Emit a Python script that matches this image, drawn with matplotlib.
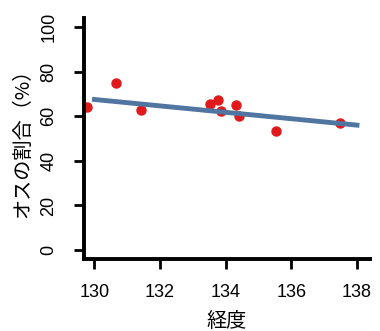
import matplotlib
matplotlib.use("Agg")
import matplotlib.pyplot as plt

# 経度とオスの割合
longitude = [129.76, 130.67, 131.41, 133.52, 133.77, 133.87, 134.30, 134.39, 135.52, 137.48]
male_pct = [64, 75, 63, 65.3, 67.2, 62.4, 64.9, 59.9, 53.2, 57]

# 回帰直線
fit_x = [130, 138]
fit_y = [67.5, 56]

xticks = [130, 132, 134, 136, 138]
yticks = [0, 20, 40, 60, 80, 100]

plt.rcParams['font.family'] = ['Liberation Sans', 'Noto Sans CJK JP']

fig = plt.figure(figsize=(3.8, 3.31), dpi=100)
ax = fig.add_axes([0.221, 0.2175, 0.753, 0.728])

ax.plot(longitude, male_pct, 'o', color='#e01a1c', markersize=6.5, zorder=2)
ax.plot(fit_x, fit_y, '-', color='#4f75a0', linewidth=3.5, zorder=3)

ax.set_xlim(129.68, 138.4)
ax.set_ylim(-4, 104)
ax.set_xticks(xticks)
ax.set_yticks(yticks)
ax.set_yticklabels([str(v) for v in yticks], rotation=90, va='center')

for s in ['top', 'right']:
    ax.spines[s].set_visible(False)
for s in ['left', 'bottom']:
    ax.spines[s].set_linewidth(2.8)
ax.tick_params(axis='both', direction='out', length=7, width=2, labelsize=13)
ax.tick_params(axis='x', pad=11)
ax.tick_params(axis='y', pad=12)

ax.set_xlabel('経度', fontsize=14.5, family='Noto Sans CJK JP', labelpad=7)
ax.set_ylabel('オスの割合（%）', fontsize=14.5, family='Noto Sans CJK JP', labelpad=5)

fig.savefig('out.png', dpi=100)
